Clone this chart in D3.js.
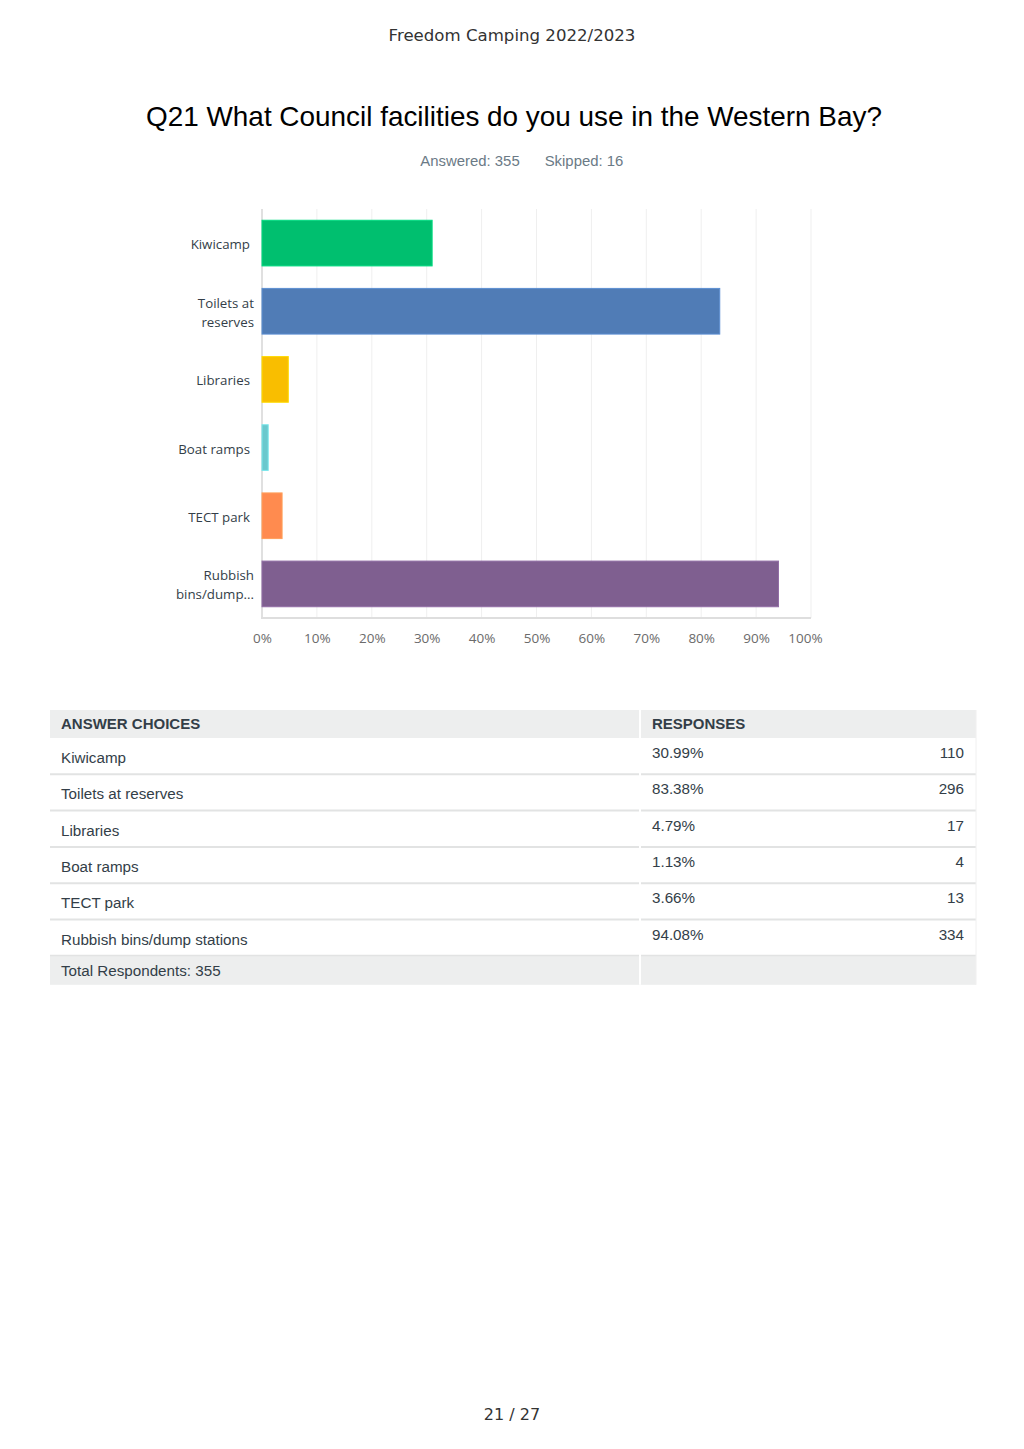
<!DOCTYPE html>
<html><head><meta charset="utf-8">
<script src="https://cdn.jsdelivr.net/npm/d3@7"></script>
<style>body{margin:0;background:#fff}svg{display:block}</style>
</head><body>
<script>
const categories = ["Kiwicamp","Toilets at reserves","Libraries","Boat ramps","TECT park","Rubbish bins/dump stations"];
const axisLabels = [["Kiwicamp"],["Toilets at","reserves"],["Libraries"],["Boat ramps"],["TECT park"],["Rubbish","bins/dump..."]];
const percents = [30.99,83.38,4.79,1.13,3.66,94.08];
const counts = [110,296,17,4,13,334];
const colors = ["#00BF6F","#507CB6","#F9BE00","#6BC8CD","#FF8B4F","#7F5F90"];
const ticks = [0,10,20,30,40,50,60,70,80,90,100];
const answered = 355, skipped = 16, totalRespondents = 355;

const W=1024,H=1449;
const svg=d3.select("body").append("svg").attr("width",W).attr("height",H);
const sans="'DejaVu Sans', sans-serif";
const arial="'Liberation Sans', Arial, sans-serif";
const ui="'Open Sans','DejaVu Sans',sans-serif";

svg.append("text").attr("x",512).attr("y",41).attr("text-anchor","middle")
  .style("font-family",sans).style("font-size","16.6px").attr("fill","#333").text("Freedom Camping 2022/2023");
svg.append("text").attr("x",514).attr("y",126).attr("text-anchor","middle")
  .style("font-family",arial).style("font-size","27.9px").attr("fill","#000")
  .text("Q21 What Council facilities do you use in the Western Bay?");
svg.append("text").attr("x",470).attr("y",166).attr("text-anchor","middle")
  .style("font-family",arial).style("font-size","14.9px").attr("fill","#6b7a86").text("Answered: "+answered);
svg.append("text").attr("x",584).attr("y",166).attr("text-anchor","middle")
  .style("font-family",arial).style("font-size","14.9px").attr("fill","#6b7a86").text("Skipped: "+skipped);

const x=d3.scaleLinear().domain([0,100]).range([262,811]);
const y=d3.scaleBand().domain(categories).range([209,618]).paddingInner(0.33).paddingOuter(0.165);

const g=svg.append("g");
g.selectAll("line.grid").data(ticks).join("line").attr("class","grid")
  .attr("x1",d=>x(d)).attr("x2",d=>x(d)).attr("y1",209).attr("y2",618)
  .attr("stroke",d=>d===0?"#e0e0e0":"#efefef").attr("stroke-width",d=>d===0?2:1);
g.append("line").attr("x1",261).attr("x2",811).attr("y1",618).attr("y2",618).attr("stroke","#dedede").attr("stroke-width",2);

g.selectAll("rect.bar").data(categories).join("rect").attr("class","bar")
  .attr("x",x(0)).attr("y",d=>y(d)).attr("width",(d,i)=>x(percents[i])-x(0)).attr("height",y.bandwidth())
  .attr("fill",(d,i)=>colors[i]).attr("stroke",(d,i)=>d3.color(colors[i]).brighter(0.4)).attr("stroke-width",1);

const xAxis=d3.axisBottom(x).tickValues(ticks).tickFormat(d=>d+"%").tickSize(0).tickPadding(14);
const ax=svg.append("g").attr("transform","translate(0,619)").call(xAxis);
ax.select(".domain").remove();
ax.selectAll("text").style("font-family",ui).style("font-size","13.5px").attr("fill","#6b6b6b")
  .attr("dx",d=>d===100?-6:0);

const ylab=svg.append("g");
categories.forEach((c,i)=>{
  const lines=axisLabels[i];
  const cy=y(c)+y.bandwidth()/2;
  const t=ylab.append("text").attr("text-anchor","end")
    .style("font-family",ui).style("font-size","13.3px").attr("fill","#333e48");
  lines.forEach((l,j)=>{
    t.append("tspan").attr("x",lines.length===1?250:254).attr("y",cy+6+(j-(lines.length-1)/2)*19).text(l);
  });
});

// table
const tx0=50,tx1=976,tcol=640;
const fs="15.2px";
const tbl=svg.append("g").style("font-family",arial);
tbl.append("rect").attr("x",tx0).attr("y",710).attr("width",tx1-tx0).attr("height",28).attr("fill","#edeeee");
tbl.append("text").attr("x",61).attr("y",729).style("font-size","15px").style("font-weight","bold").attr("fill","#333e48").text("ANSWER CHOICES");
tbl.append("text").attr("x",652).attr("y",729).style("font-size","15px").style("font-weight","bold").attr("fill","#333e48").text("RESPONSES");
const rowH=36.3, r0=738;
categories.forEach((c,i)=>{
  const top=r0+i*rowH;
  tbl.append("text").attr("x",61).attr("y",top+25).style("font-size",fs).attr("fill","#333e48").text(c);
  tbl.append("text").attr("x",652).attr("y",top+20).style("font-size",fs).attr("fill","#333e48").text(percents[i].toFixed(2)+"%");
  tbl.append("text").attr("x",964).attr("y",top+20).attr("text-anchor","end").style("font-size",fs).attr("fill","#333e48").text(counts[i]);
  tbl.append("line").attr("x1",tx0).attr("x2",tx1).attr("y1",top+rowH).attr("y2",top+rowH).attr("stroke","#e2e3e3").attr("stroke-width",2);
});
const ft=r0+6*rowH+1;
tbl.append("rect").attr("x",tx0).attr("y",ft).attr("width",tx1-tx0).attr("height",28).attr("fill","#edeeee");
tbl.append("text").attr("x",61).attr("y",ft+19).style("font-size",fs).attr("fill","#333e48").text("Total Respondents: "+totalRespondents);
tbl.append("line").attr("x1",tcol).attr("x2",tcol).attr("y1",710).attr("y2",ft+28).attr("stroke","#fff").attr("stroke-width",2);
tbl.append("line").attr("x1",tx1).attr("x2",tx1).attr("y1",710).attr("y2",ft+28).attr("stroke","#f0f0f0").attr("stroke-width",1);

svg.append("text").attr("x",512).attr("y",1420).attr("text-anchor","middle")
  .style("font-family",sans).style("font-size","16px").attr("fill","#333").text("21 / 27");
</script>
</body></html>
